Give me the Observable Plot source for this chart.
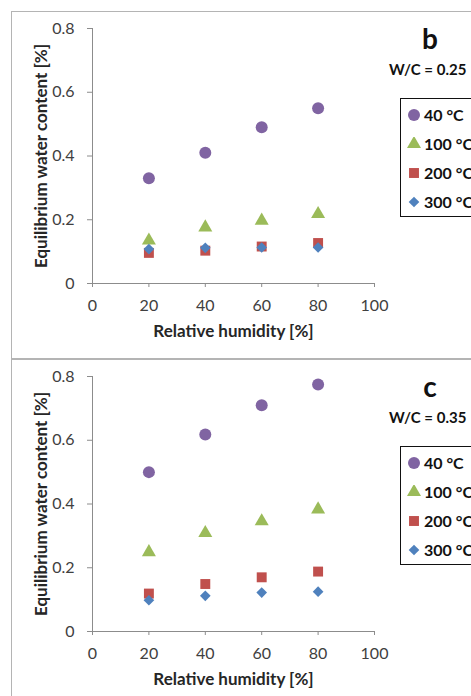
<!DOCTYPE html>
<html>
<head>
<meta charset="utf-8">
<script src="https://cdn.jsdelivr.net/npm/d3@7"></script>
<script src="https://cdn.jsdelivr.net/npm/@observablehq/plot@0.6"></script>
<style>
  html, body { margin: 0; padding: 0; background: #fff; }
  #page { position: relative; width: 471px; height: 696px; overflow: hidden; background: #fff; font-family: Lato, "Open Sans", sans-serif; }
  .frame { position: absolute; border: 1px solid #b4b4b4; box-sizing: border-box; }
  .plotwrap { position: absolute; left: 0; }
  .plotwrap svg { overflow: visible; }
  g[aria-label="x-axis label"] text, g[aria-label="y-axis label"] text { font-weight: 700; fill: #262626; font-size: 17px; }
  .letter { position: absolute; font-weight: 700; font-size: 28px; color: #111; line-height: 1; transform: translate(-50%, -50%); }
  .wc { position: absolute; font-weight: 700; font-size: 15px; color: #111; line-height: 1; white-space: nowrap; transform: translateY(-50%); }
  .legend { position: absolute; border: 1px solid #111; width: 120px; padding-top: 1px; background: #fff; }
  .legend .row { height: 29px; display: flex; align-items: center; white-space: nowrap; font-weight: 700; font-size: 16px; color: #111; }
  .legend svg { display: block; margin-left: 6px; margin-right: 3px; }
</style>
</head>
<body>
<div id="page"></div>
<script>
// ---- data ----
const humidity = [20, 40, 60, 80];
const xTicks = [0, 20, 40, 60, 80, 100];
const yTicks = [0, 0.2, 0.4, 0.6, 0.8];
const temps = ["40 °C", "100 °C", "200 °C", "300 °C"];

// panel b (W/C = 0.25)
const b_40  = [0.33, 0.41, 0.49, 0.55];
const b_100 = [0.135, 0.176, 0.197, 0.218];
const b_200 = [0.096, 0.103, 0.116, 0.127];
const b_300 = [0.108, 0.112, 0.113, 0.113];

// panel c (W/C = 0.35)
const c_40  = [0.50, 0.618, 0.71, 0.775];
const c_100 = [0.249, 0.309, 0.346, 0.383];
const c_200 = [0.119, 0.149, 0.170, 0.188];
const c_300 = [0.098, 0.112, 0.122, 0.125];

// ---- styles ----
const colors = ["#8064A2", "#9BBB59", "#C0504D", "#4F81BD"];
const symbols = ["circle", "triangle", "square", "diamond2"];
const d3symbols = [d3.symbolCircle, d3.symbolTriangle, d3.symbolSquare, d3.symbolDiamond2];
const radii = [6, 5.2, 5.6, 4.8];
const axisGray = "#8c8c8c";

const page = document.getElementById("page");

function addFrame(left, top, width, height) {
  const f = document.createElement("div");
  f.className = "frame";
  Object.assign(f.style, {left: left + "px", top: top + "px", width: width + "px", height: height + "px"});
  page.appendChild(f);
}

function makePanel(series, top, letter, wc) {
  const plot = Plot.plot({
    width: 471,
    height: 348,
    marginLeft: 92,
    marginRight: 97,
    marginTop: 28,
    marginBottom: 65,
    x: {domain: [0, 100]},
    y: {domain: [0, 0.8]},
    style: {fontFamily: "Lato, 'Open Sans', sans-serif", fontSize: "16px", color: "#404040", background: "transparent"},
    marks: [
      Plot.ruleX([0], {stroke: axisGray}),
      Plot.ruleY([0], {stroke: axisGray}),
      Plot.axisX({ticks: xTicks, tickSize: 4, tickPadding: 12, stroke: axisGray, fill: "#404040",
        label: "Relative humidity [%]", labelAnchor: "center", labelOffset: 53, labelArrow: "none"}),
      Plot.axisY({ticks: yTicks, tickSize: 5, tickPadding: 13, stroke: axisGray, fill: "#404040",
        tickFormat: d => String(d),
        label: "Equilibrium water content [%]", labelAnchor: "center", labelOffset: 58, labelArrow: "none"}),
      ...series.map((vals, i) => Plot.dot(humidity, {
        x: d => d,
        y: (d, j) => vals[j],
        symbol: symbols[i],
        fill: colors[i],
        r: radii[i]
      }))
    ]
  });
  const wrap = document.createElement("div");
  wrap.className = "plotwrap";
  wrap.style.top = top + "px";
  wrap.appendChild(plot);
  page.appendChild(wrap);

  const L = document.createElement("div");
  L.className = "letter";
  L.textContent = letter;
  L.style.left = "430px";
  L.style.top = (top + 38) + "px";
  page.appendChild(L);

  const W = document.createElement("div");
  W.className = "wc";
  W.textContent = wc;
  W.style.left = "389px";
  W.style.top = (top + 69) + "px";
  page.appendChild(W);

  const leg = document.createElement("div");
  leg.className = "legend";
  leg.style.left = "400px";
  leg.style.top = (top + 98) + "px";
  temps.forEach((t, i) => {
    const row = document.createElement("div");
    row.className = "row";
    const s = d3.create("svg").attr("width", 14).attr("height", 14);
    const area = Math.PI * radii[i] * radii[i];
    s.append("path")
      .attr("transform", "translate(7,7)")
      .attr("d", d3.symbol(d3symbols[i], area)())
      .attr("fill", colors[i]);
    row.appendChild(s.node());
    const span = document.createElement("span");
    span.textContent = t;
    row.appendChild(span);
    leg.appendChild(row);
  });
  page.appendChild(leg);
}

addFrame(11, 11, 480, 348);
addFrame(11, 359, 480, 360);
makePanel([b_40, b_100, b_200, b_300], 0, "b", "W/C = 0.25");
makePanel([c_40, c_100, c_200, c_300], 348, "c", "W/C = 0.35");
</script>
</body>
</html>
